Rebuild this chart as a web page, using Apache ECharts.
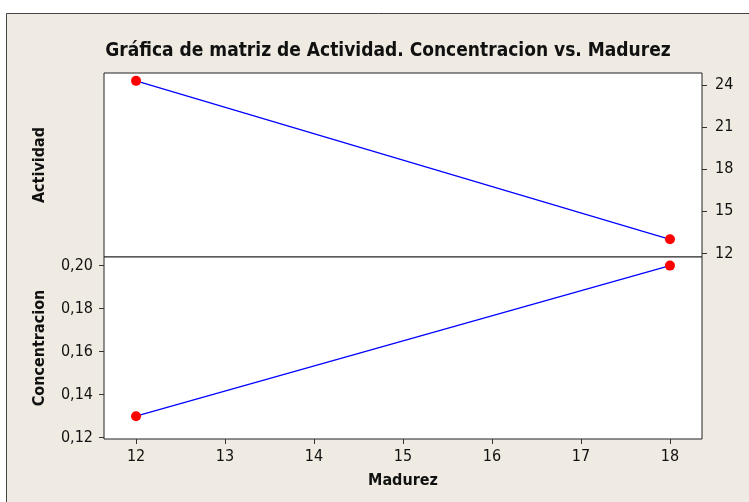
<!DOCTYPE html>
<html><head><meta charset="utf-8">
<script src="https://cdn.jsdelivr.net/npm/echarts@6/dist/echarts.min.js"></script>
<style>html,body{margin:0;padding:0;background:#fff;}#c{width:749px;height:502px;}</style>
</head><body><div id="c"></div>
<script>
const madurez = [12, 18];
const actividad = [24.3, 13];
const concentracion = [0.13, 0.20];
const xTicks = [12, 13, 14, 15, 16, 17, 18];
const actTicks = [12, 15, 18, 21, 24];
const conTicks = [0.12, 0.14, 0.16, 0.18, 0.20];

const FONT = '"DejaVu Sans Condensed","DejaVu Sans",sans-serif';
const chart = echarts.init(document.getElementById('c'));
const tickStyle = {show: true, inside: false, length: 5, lineStyle: {color: '#333', width: 1}};
const labelStyle = {color: '#111', fontSize: 16, fontFamily: FONT};
const nameStyle = {fontSize: 16, fontWeight: 'bold', color: '#111', fontFamily: FONT};
const lineSeries = (xi, yi, vals) => ({
  type: 'line', xAxisIndex: xi, yAxisIndex: yi,
  data: madurez.map((m, i) => [m, vals[i]]),
  lineStyle: {color: '#0000ff', width: 1.2}, itemStyle: {color: '#ff0000'},
  symbol: 'circle', symbolSize: 10, z: 3, animation: false
});
chart.setOption({
  animation: false,
  graphic: [{type: 'rect', shape: {x: 6.5, y: 13.5, width: 800, height: 600}, style: {fill: '#efebe2', stroke: '#444', lineWidth: 1}, z: -10}],
  title: {text: 'Gráfica de matriz de Actividad. Concentracion vs. Madurez', left: 383, top: 37, textAlign: 'center',
    textStyle: {fontSize: 19, fontWeight: 'bold', color: '#111', fontFamily: FONT}},
  grid: [
    {left: 104, top: 73, width: 598, height: 184, show: true, backgroundColor: '#fff', borderColor: '#222', borderWidth: 1},
    {left: 104, top: 257, width: 598, height: 182, show: true, backgroundColor: '#fff', borderColor: '#222', borderWidth: 1}
  ],
  xAxis: [
    {gridIndex: 0, type: 'value', min: 11.64, max: 18.36, show: false},
    {gridIndex: 1, type: 'value', min: 11.64, max: 18.36,
      axisLine: {show: false}, splitLine: {show: false},
      axisTick: Object.assign({customValues: xTicks}, tickStyle),
      axisLabel: Object.assign({customValues: xTicks, margin: 10}, labelStyle),
      name: 'Madurez', nameLocation: 'middle', nameGap: 34, nameTextStyle: nameStyle}
  ],
  yAxis: [
    {gridIndex: 0, type: 'value', position: 'right', min: 11.74, max: 24.86,
      axisLine: {show: false}, splitLine: {show: false},
      axisTick: Object.assign({customValues: actTicks}, tickStyle),
      axisLabel: Object.assign({customValues: actTicks, margin: 13}, labelStyle)},
    {gridIndex: 1, type: 'value', position: 'left', min: 0.1194, max: 0.204,
      axisLine: {show: false}, splitLine: {show: false},
      axisTick: Object.assign({customValues: conTicks}, tickStyle),
      axisLabel: Object.assign({customValues: conTicks, margin: 11, formatter: v => v.toFixed(2).replace('.', ',')}, labelStyle),
      name: 'Concentracion', nameLocation: 'middle', nameGap: 56, nameTextStyle: nameStyle},
    {gridIndex: 0, type: 'value', position: 'left', min: 11.74, max: 24.86,
      axisLine: {show: false}, axisTick: {show: false}, axisLabel: {show: false}, splitLine: {show: false},
      name: 'Actividad', nameLocation: 'middle', nameGap: 56, nameTextStyle: nameStyle}
  ],
  series: [lineSeries(0, 0, actividad), lineSeries(1, 1, concentracion)]
});
</script></body></html>
